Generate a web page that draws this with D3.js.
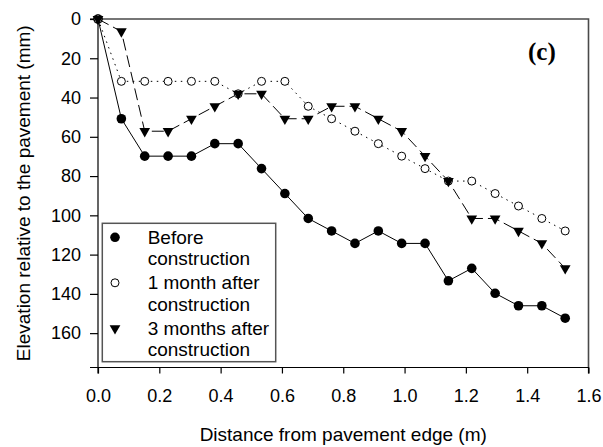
<!DOCTYPE html>
<html>
<head>
<meta charset="utf-8">
<script src="https://cdn.jsdelivr.net/npm/d3@7"></script>
<style>
  body { margin: 0; background: #fff; }
  text { font-family: Arial, "Liberation Sans", sans-serif; fill: #000; }
</style>
</head>
<body>
<div id="chart"></div>
<script>
// distance from pavement edge (m), one reading every 3 inches
const distances = [0, 0.0762, 0.1524, 0.2286, 0.3048, 0.381, 0.4572, 0.5334, 0.6096, 0.6858,
  0.762, 0.8382, 0.9144, 0.9906, 1.0668, 1.143, 1.2192, 1.2954, 1.3716, 1.4478, 1.524];

// elevation relative to the pavement (mm)
const beforeConstruction = [0, 50.8, 69.85, 69.85, 69.85, 63.5, 63.5, 76.2, 88.9, 101.6,
  107.95, 114.3, 107.95, 114.3, 114.3, 133.35, 127, 139.7, 146.05, 146.05, 152.4];
const oneMonthAfter = [0, 31.75, 31.75, 31.75, 31.75, 31.75, 38.1, 31.75, 31.75, 44.45,
  50.8, 57.15, 63.5, 69.85, 76.2, 82.55, 82.55, 88.9, 95.25, 101.6, 107.95];
const threeMonthsAfter = [0, 6.35, 57.15, 57.15, 50.8, 44.45, 38.1, 38.1, 50.8, 50.8,
  44.45, 44.45, 50.8, 57.15, 69.85, 82.55, 101.6, 101.6, 107.95, 114.3, 127];

const xTicks = [0, 0.2, 0.4, 0.6, 0.8, 1.0, 1.2, 1.4, 1.6];
const yTicks = [0, 20, 40, 60, 80, 100, 120, 140, 160];

const series = [
  { name: ["Before", "construction"], values: beforeConstruction, marker: "filled", dash: null },
  { name: ["1 month after", "construction"], values: oneMonthAfter, marker: "open", dash: "1.5,4.5" },
  { name: ["3 months after", "construction"], values: threeMonthsAfter, marker: "triangle", dash: "12,5" }
];

const width = 603, height = 447;
const margin = { top: 19, right: 15, bottom: 80, left: 98 };
const innerW = 588.5 - margin.left;
const innerH = 367.5 - margin.top;

const svg = d3.select("#chart").append("svg")
  .attr("width", width)
  .attr("height", height);

const chart = svg.append("g")
  .attr("transform", `translate(${margin.left},${margin.top})`);

const xScale = d3.scaleLinear().domain([0, 1.6]).range([0, innerW]);
const yScale = d3.scaleLinear().domain([0, 177.5]).range([0, innerH]);

// frame (top and right)
chart.append("path")
  .attr("d", `M0,0H${innerW}V${innerH}`)
  .attr("fill", "none")
  .attr("stroke", "#4a4a4a")
  .attr("stroke-width", 1.6);

// axes
const xAxis = d3.axisBottom(xScale).tickValues(xTicks).tickSize(6).tickPadding(16)
  .tickFormat(d3.format(".1f"));
const yAxis = d3.axisLeft(yScale).tickValues(yTicks).tickSize(8).tickPadding(9)
  .tickFormat(d3.format("d"));

const xAxisG = chart.append("g")
  .attr("transform", `translate(0,${innerH})`)
  .call(xAxis);
const yAxisG = chart.append("g").call(yAxis);

[xAxisG, yAxisG].forEach(g => {
  g.select(".domain").attr("stroke", "#000").attr("stroke-width", 1.2);
  g.selectAll(".tick line").attr("stroke", "#000").attr("stroke-width", 1.2);
  g.selectAll(".tick text")
    .attr("fill", "#000")
    .style("font-family", "Arial, 'Liberation Sans', sans-serif")
    .style("font-size", "18px");
});
xAxisG.select(".domain").attr("d", `M0,6V0H${innerW}V6`);
yAxisG.select(".domain").attr("d", `M-8,0H0V${innerH}H-8`);

// axis titles
svg.append("text")
  .attr("x", margin.left + innerW / 2)
  .attr("y", 441)
  .attr("text-anchor", "middle")
  .style("font-size", "19px")
  .text("Distance from pavement edge (m)");

svg.append("text")
  .attr("transform", `translate(30,${margin.top + innerH / 2}) rotate(-90)`)
  .attr("text-anchor", "middle")
  .style("font-size", "19px")
  .text("Elevation relative to the pavement (mm)");

svg.append("text")
  .attr("x", 528)
  .attr("y", 60)
  .style("font-family", "'Times New Roman', 'Liberation Serif', serif")
  .style("font-weight", "bold")
  .style("font-size", "25px")
  .text("(c)");

// markers
const triPath = d3.symbol().type(d3.symbolTriangle).size(50)();
const drawMarker = (sel, type) => {
  if (type === "triangle") {
    sel.append("path")
      .attr("d", triPath)
      .attr("transform", "rotate(180)")
      .attr("fill", "#000");
  } else if (type === "open") {
    sel.append("circle").attr("r", 4).attr("fill", "#fff")
      .attr("stroke", "#000").attr("stroke-width", 1);
  } else {
    sel.append("circle").attr("r", 4.8).attr("fill", "#000");
  }
};

const line = d3.line()
  .x(d => xScale(d[0]))
  .y(d => yScale(d[1]));

series.forEach(s => {
  const pts = distances.map((x, i) => [x, s.values[i]]);
  chart.append("path")
    .datum(pts)
    .attr("d", line)
    .attr("fill", "none")
    .attr("stroke", "#000")
    .attr("stroke-width", 1)
    .attr("stroke-dasharray", s.dash);
});

series.forEach(s => {
  const pts = distances.map((x, i) => [x, s.values[i]]);
  chart.selectAll(null)
    .data(pts)
    .join("g")
    .attr("transform", d => `translate(${xScale(d[0])},${yScale(d[1])})`)
    .each(function () { drawMarker(d3.select(this), s.marker); });
});

// legend
const legend = svg.append("g").attr("transform", "translate(102.3,223.3)");
legend.append("rect")
  .attr("width", 173.4)
  .attr("height", 138.4)
  .attr("fill", "#fff")
  .attr("stroke", "#555")
  .attr("stroke-width", 1.5);

series.forEach((s, i) => {
  const row = legend.append("g").attr("transform", `translate(0,${i * 45.5})`);
  row.append("g")
    .attr("transform", "translate(12.7,14)")
    .call(sel => drawMarker(sel, s.marker));
  row.append("text")
    .attr("x", 45.4)
    .attr("y", 20.7)
    .style("font-size", "19px")
    .selectAll("tspan")
    .data(s.name)
    .join("tspan")
    .attr("x", 45.4)
    .attr("dy", (d, j) => j === 0 ? 0 : 21.5)
    .text(d => d);
});
</script>
</body>
</html>
